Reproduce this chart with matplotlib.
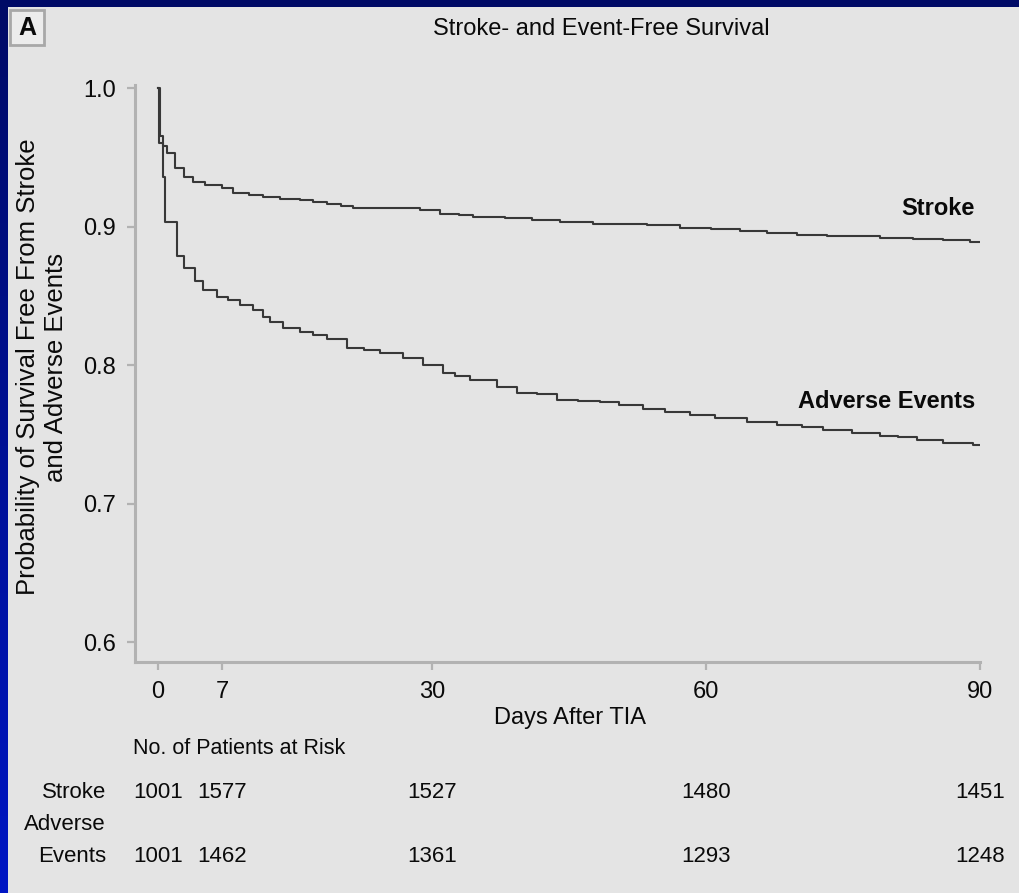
import numpy as np
import matplotlib
matplotlib.use("Agg")
import matplotlib.pyplot as plt
from matplotlib.patches import Rectangle
import matplotlib.transforms as mtransforms

# ---------------- data ----------------
stroke_days = [0, 0.2, 0.5, 1.0, 1.9, 2.9, 3.8, 5.1, 7.0, 8.2, 10.0, 11.5, 13.4,
               15.5, 17.0, 18.5, 20.0, 21.4, 25.0, 28.7, 30.9, 33.0, 34.5, 38.0,
               41.0, 44.0, 47.6, 50.5, 53.5, 57.2, 60.5, 63.7, 66.7, 70.0, 73.2,
               76.0, 79.0, 82.7, 86.0, 88.9, 90.3]
stroke_surv = [1.0, 0.965, 0.958, 0.953, 0.942, 0.936, 0.932, 0.930, 0.928, 0.924,
               0.923, 0.921, 0.920, 0.919, 0.918, 0.916, 0.915, 0.913, 0.913, 0.912,
               0.909, 0.908, 0.907, 0.906, 0.905, 0.903, 0.902, 0.902, 0.901, 0.899,
               0.898, 0.897, 0.895, 0.894, 0.893, 0.893, 0.892, 0.891, 0.890, 0.889,
               0.888]

adverse_days = [0, 0.1, 0.5, 0.77, 2.1, 2.9, 4.0, 4.9, 6.5, 7.7, 9.0, 10.4, 11.5,
                12.3, 13.7, 15.6, 17.0, 18.5, 20.7, 22.5, 24.3, 26.8, 29.0, 31.2,
                32.5, 34.2, 37.1, 39.3, 41.5, 43.7, 46.0, 48.4, 50.5, 53.1, 55.5,
                58.2, 61.0, 64.5, 67.8, 70.5, 72.8, 76.0, 79.0, 81.0, 83.1, 86.0,
                89.2, 90.3]
adverse_surv = [1.0, 0.960, 0.936, 0.903, 0.879, 0.870, 0.861, 0.854, 0.849, 0.847,
                0.843, 0.840, 0.835, 0.831, 0.827, 0.824, 0.822, 0.819, 0.812, 0.811,
                0.809, 0.805, 0.800, 0.794, 0.792, 0.789, 0.784, 0.780, 0.779, 0.775,
                0.774, 0.773, 0.771, 0.768, 0.766, 0.764, 0.762, 0.759, 0.757, 0.755,
                0.753, 0.751, 0.749, 0.748, 0.746, 0.744, 0.742, 0.740]

x_ticks = [0, 7, 30, 60, 90]
y_ticks = [0.6, 0.7, 0.8, 0.9, 1.0]
y_tick_labels = ["0.6", "0.7", "0.8", "0.9", "1.0"]

risk_days = [0, 7, 30, 60, 90]
risk_stroke = [1001, 1577, 1527, 1480, 1451]
risk_adverse = [1001, 1462, 1361, 1293, 1248]

# ---------------- style ----------------
W, H = 1019, 893
DPI = 100
BG = "#e4e4e4"
SPINE = "#b2b2b2"
LINE = "#383838"
TXT = "#0a0a0a"
FONT = ["Liberation Sans", "DejaVu Sans"]
plt.rcParams["font.family"] = FONT

fig = plt.figure(figsize=(W / DPI, H / DPI), dpi=DPI, facecolor=BG)

def fx(px):
    return px / W

def fy(py):
    return 1 - py / H

# blue frame (top band and left gradient band)
band = fig.add_axes([0, 0, fx(8), 1])
band.imshow(np.linspace(0, 1, 256).reshape(-1, 1), aspect="auto",
            cmap=matplotlib.colors.LinearSegmentedColormap.from_list(
                "b", ["#000a66", "#0016c4"]), extent=[0, 1, 0, 1], origin="upper")
band.set_axis_off()
fig.patches.append(Rectangle((0, fy(7)), 1, 7 / H, transform=fig.transFigure,
                             facecolor="#000a66", edgecolor="none", zorder=5))

# axes: left spine at x=135px, right end 980px (day 90), bottom at 662px, top at 85px
x0, x1 = 135, 980
y_top, y_bot = 85, 662
px_per_day = (980 - 158) / 90.0
xmin = 0 - (158 - x0) / px_per_day
px_per_unit = (642 - 88) / 0.4
ymax = 1.0 + (88 - y_top) / px_per_unit
ymin = 0.6 - (y_bot - 642) / px_per_unit

ax = fig.add_axes([fx(x0), fy(y_bot), fx(x1 - x0), (y_bot - y_top) / H])
ax.set_facecolor(BG)
ax.set_xlim(xmin, 90)
ax.set_ylim(ymin, ymax)

ax.step(stroke_days, stroke_surv, where="post", color=LINE, lw=1.5)
ax.step(adverse_days, adverse_surv, where="post", color=LINE, lw=1.5)

for s in ["top", "right"]:
    ax.spines[s].set_visible(False)
for s in ["left", "bottom"]:
    ax.spines[s].set_color(SPINE)
    ax.spines[s].set_linewidth(2.2)

ax.set_xticks(x_ticks)
ax.set_xticklabels([str(v) for v in x_ticks])
ax.set_yticks(y_ticks)
ax.set_yticklabels(y_tick_labels)
ax.tick_params(axis="both", colors=SPINE, labelcolor=TXT, width=1.6,
               length=6, labelsize=17)
ax.tick_params(axis="x", pad=8)
ax.tick_params(axis="y", pad=8)

fig.text(fx(975), fy(208), "Stroke", ha="right", va="center", fontsize=17,
         fontweight="bold", color=TXT)
fig.text(fx(975), fy(402), "Adverse Events", ha="right", va="center", fontsize=17,
         fontweight="bold", color=TXT)

# title and panel letter
fig.text(fx(601), fy(29), "Stroke- and Event-Free Survival", ha="center",
         va="center", fontsize=17, color=TXT)
fig.patches.append(Rectangle((fx(10), fy(45)), 34 / W, 35 / H, transform=fig.transFigure,
                             facecolor="#ececec", edgecolor="#a8a8a8", lw=2))
fig.text(fx(27), fy(28), "A", ha="center", va="center", fontsize=18,
         fontweight="bold", color=TXT)

# axis labels
fig.text(fx(42), fy(367), "Probability of Survival Free From Stroke\nand Adverse Events",
         rotation=90, ha="center", va="center", fontsize=18.5, color=TXT,
         linespacing=1.2, multialignment="center")
fig.text(fx(570), fy(718), "Days After TIA", ha="center", va="center", fontsize=17,
         color=TXT)

# risk table
fig.text(fx(133), fy(748), "No. of Patients at Risk", ha="left", va="center",
         fontsize=15.5, color=TXT)
blend = mtransforms.blended_transform_factory(ax.transData, fig.transFigure)
fig.text(fx(106), fy(792), "Stroke", ha="right", va="center", fontsize=16, color=TXT)
fig.text(fx(106), fy(825), "Adverse", ha="right", va="center", fontsize=16, color=TXT)
fig.text(fx(106), fy(856), "Events", ha="right", va="center", fontsize=16, color=TXT)
for d, n in zip(risk_days, risk_stroke):
    ax.text(d, fy(792), str(n), transform=blend, ha="center", va="center",
            fontsize=16, color=TXT, clip_on=False)
for d, n in zip(risk_days, risk_adverse):
    ax.text(d, fy(856), str(n), transform=blend, ha="center", va="center",
            fontsize=16, color=TXT, clip_on=False)

fig.savefig("out.png", dpi=DPI, facecolor=BG)
